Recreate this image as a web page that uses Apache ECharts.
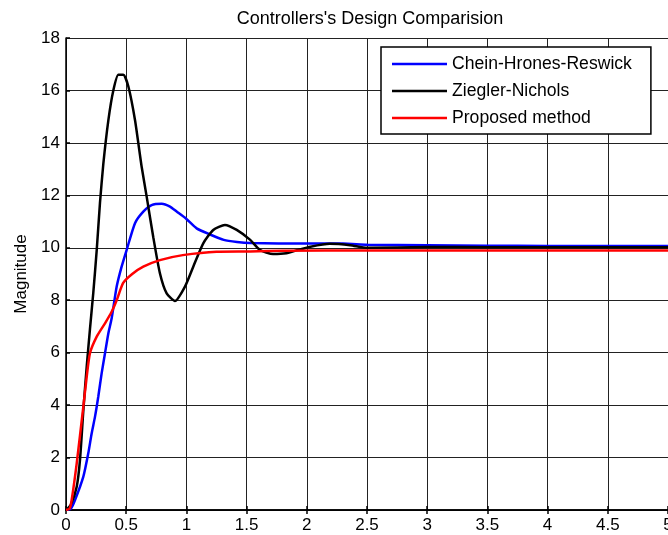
<!DOCTYPE html>
<html>
<head>
<meta charset="utf-8">
<script src="https://cdn.jsdelivr.net/npm/echarts@6/dist/echarts.min.js"></script>
<style>
html,body{margin:0;padding:0;background:#fff;}
#chart{width:668px;height:535px;}
</style>
</head>
<body>
<div id="chart"></div>
<script>
var titleText = "Controllers's Design Comparision";
var yAxisName = "Magnitude";
var seriesNames = ["Chein-Hrones-Reswick", "Ziegler-Nichols", "Proposed method"];
var seriesColors = ["#0000ff", "#000000", "#ff0000"];

var tBlue = [0, 0.04, 0.075, 0.144, 0.185, 0.213, 0.241, 0.268, 0.296, 0.324, 0.352, 0.379, 0.421, 0.462, 0.504, 0.573, 0.642, 0.711, 0.795, 0.864, 0.919, 1.0, 1.085, 1.2, 1.31, 1.42, 1.53, 2.0, 2.3, 2.5, 3.0, 3.5, 4.0, 4.5, 5];
var yBlue = [0, 0.05, 0.38, 1.27, 2.16, 2.92, 3.56, 4.32, 5.21, 5.98, 6.74, 7.3, 8.52, 9.28, 9.92, 10.94, 11.38, 11.63, 11.68, 11.57, 11.38, 11.1, 10.74, 10.5, 10.3, 10.22, 10.18, 10.16, 10.16, 10.12, 10.1, 10.08, 10.07, 10.07, 10.07];

var tBlack = [0, 0.04, 0.089, 0.116, 0.144, 0.172, 0.199, 0.227, 0.255, 0.282, 0.31, 0.352, 0.393, 0.435, 0.476, 0.518, 0.573, 0.628, 0.67, 0.725, 0.78, 0.836, 0.905, 0.988, 1.057, 1.14, 1.223, 1.32, 1.418, 1.53, 1.61, 1.72, 1.83, 1.93, 2.03, 2.19, 2.36, 2.5, 3, 3.5, 4, 4.5, 5];
var yBlack = [0, 0.2, 0.89, 1.9, 3.8, 5.47, 6.9, 8.3, 9.9, 11.7, 13.2, 14.87, 16.0, 16.6, 16.6, 16.15, 14.87, 13.1, 11.95, 10.4, 9.03, 8.26, 7.97, 8.52, 9.28, 10.17, 10.68, 10.87, 10.68, 10.3, 9.92, 9.76, 9.79, 9.92, 10.04, 10.15, 10.1, 10.0, 10.03, 10.02, 10.02, 10.02, 10.02];

var tRed = [0, 0.03, 0.047, 0.089, 0.144, 0.172, 0.199, 0.255, 0.324, 0.379, 0.421, 0.475, 0.55, 0.642, 0.78, 0.97, 1.25, 1.53, 1.8, 2.5, 3, 4, 5];
var yRed = [0, 0.05, 0.38, 1.78, 3.94, 5.08, 5.98, 6.61, 7.12, 7.56, 8.0, 8.66, 9.0, 9.28, 9.53, 9.72, 9.85, 9.86, 9.89, 9.9, 9.9, 9.9, 9.9];

function pairs(t, y) { return t.map(function (v, i) { return [v, y[i]]; }); }

var FONT = "'Liberation Sans', Arial, sans-serif";
var chart = echarts.init(document.getElementById('chart'), null, {renderer: 'canvas'});
var series = [[tBlue, yBlue], [tBlack, yBlack], [tRed, yRed]].map(function (d, i) {
  return {
    name: seriesNames[i],
    type: 'line',
    data: pairs(d[0], d[1]),
    symbol: 'none',
    showSymbol: false,
    smooth: 0.2,
    lineStyle: {color: seriesColors[i], width: 2.5},
    itemStyle: {color: seriesColors[i]},
    animation: false,
    z: 3 + i
  };
});

chart.setOption({
  animation: false,
  backgroundColor: '#fff',
  title: {
    text: titleText,
    left: 365, textAlign: 'center', top: 5,
    textStyle: {fontFamily: FONT, fontSize: 18, fontWeight: 'normal', color: '#000'}
  },
  legend: {
    data: seriesNames.map(function (n, i) { return {name: n, icon: 'rect', itemStyle: {color: seriesColors[i]}}; }),
    orient: 'vertical',
    left: 381, top: 47,
    padding: [8, 19, 7, 11],
    itemGap: 9,
    itemWidth: 55, itemHeight: 2.5,
    backgroundColor: '#fff',
    borderColor: '#000', borderWidth: 1.5, borderRadius: 0,
    textStyle: {fontFamily: FONT, fontSize: 17.6, color: '#000'}
  },
  grid: {left: 66, right: 0, top: 38, bottom: 25, containLabel: false, outerBoundsMode: 'none'},
  xAxis: [{
    type: 'value', min: 0, max: 5, interval: 0.5,
    axisLine: {show: true, onZero: false, lineStyle: {color: '#000', width: 1.5}},
    axisTick: {show: true, inside: true, length: 4, lineStyle: {color: '#000', width: 1.5}},
    axisLabel: {fontFamily: FONT, fontSize: 17, color: '#000', margin: 7, showMaxLabel: true},
    splitLine: {show: true, lineStyle: {color: '#222', width: 1}}
  }, {
    type: 'value', min: 0, max: 5, interval: 0.5, position: 'top',
    axisLine: {show: true, lineStyle: {color: '#000', width: 1.5}},
    axisTick: {show: true, inside: true, length: 4, lineStyle: {color: '#000', width: 1.5}},
    axisLabel: {show: false},
    splitLine: {show: false}
  }],
  yAxis: {
    type: 'value', min: 0, max: 18, interval: 2,
    name: yAxisName, nameLocation: 'middle', nameGap: 36, nameRotate: 90,
    nameTextStyle: {fontFamily: FONT, fontSize: 17, color: '#000'},
    axisLine: {show: true, onZero: false, lineStyle: {color: '#000', width: 1.5}},
    axisTick: {show: true, inside: true, length: 4, lineStyle: {color: '#000', width: 1.5}},
    axisLabel: {fontFamily: FONT, fontSize: 17, color: '#000', margin: 6},
    splitLine: {show: true, lineStyle: {color: '#222', width: 1}}
  },
  series: series
});
</script>
</body>
</html>
